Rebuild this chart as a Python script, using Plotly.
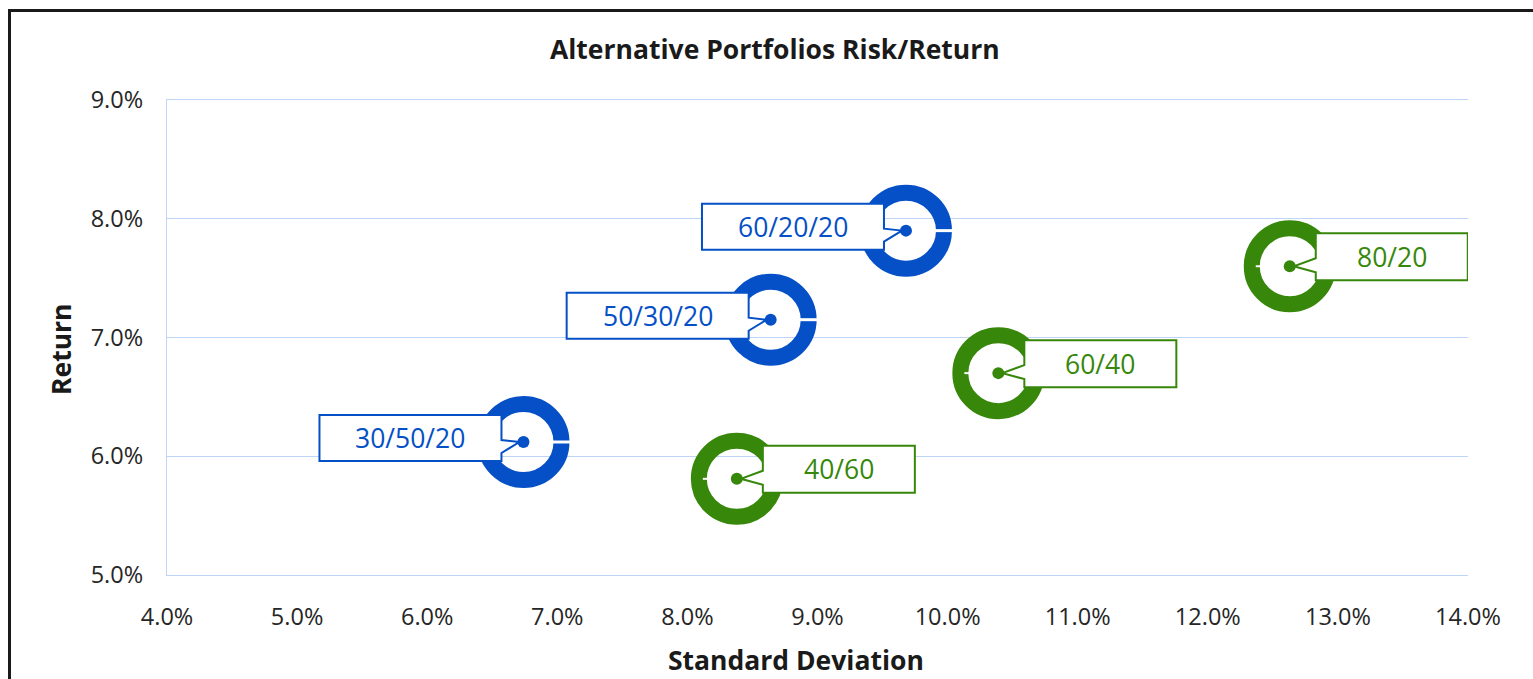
import plotly.graph_objects as go

# ---- data ----
blue_labels = ["30/50/20", "50/30/20", "60/20/20"]
blue_sd = [6.74, 8.64, 9.68]
blue_ret = [6.12, 7.15, 7.90]

green_labels = ["40/60", "60/40", "80/20"]
green_sd = [8.38, 10.39, 12.63]
green_ret = [5.81, 6.70, 7.60]

x_ticks = [4, 5, 6, 7, 8, 9, 10, 11, 12, 13, 14]
y_ticks = [5, 6, 7, 8, 9]

BLUE = "#0550c6"
GREEN = "#37870b"
GRID = "#bfd5f7"
FONT = "Open Sans"

OFF = 0  # page body margin removed via post_script
W, H = 1533, 679
ML, MT = 167, 100
MR = W - 1468
MB = H - 575
PW, PH = W - ML - MR, H - MT - MB


def px2paper_x(px):
    return (px - OFF - ML) / PW


def px2paper_y(py):
    return (H - MB - (py - OFF)) / PH


fig = go.Figure()

for xs, ys, col in [(blue_sd, blue_ret, BLUE), (green_sd, green_ret, GREEN)]:
    fig.add_trace(go.Scatter(
        x=xs, y=ys, mode="markers", hoverinfo="skip", showlegend=False,
        marker=dict(symbol="circle-open", size=76, color=col, line=dict(width=16, color=col)),
    ))
    fig.add_trace(go.Scatter(
        x=xs, y=ys, mode="markers", showlegend=False,
        marker=dict(symbol="circle", size=12, color=col),
    ))

shapes = []
annotations = []


def callout(x, y, text, col, side):
    if side == "left":
        R, width, T, h = -22, 182, 27, 46
        L = R - width
        B = T - h
        w1, w2 = 2, -11
        path = f"M {L},{T} H {R} V {w1} L -4,0 L {R},{w2} V {B} H {L} Z"
    else:
        L, width, T, h = 26, 152, 33, 47
        R = L + width
        B = T - h
        w1, w2 = 8, -6
        path = f"M {L},{T} H {R} V {B} H {L} V {w2} L 4,0 L {L},{w1} Z"
    cx = (L + R) / 2
    cy = (T + B) / 2
    shapes.append(dict(
        type="path", layer="above", xref="x", yref="y",
        xsizemode="pixel", ysizemode="pixel", xanchor=x, yanchor=y,
        path=path, fillcolor="white", line=dict(color=col, width=2),
    ))
    annotations.append(dict(
        x=x, y=y, xref="x", yref="y", text=text, showarrow=False,
        xanchor="center", yanchor="middle",
        xshift=cx, yshift=cy, font=dict(family=FONT, size=26.5, color=col),
    ))


def gap(x, y, x0, x1, w):
    shapes.append(dict(
        type="line", layer="above", xref="x", yref="y",
        xsizemode="pixel", ysizemode="pixel", xanchor=x, yanchor=y,
        x0=x0, x1=x1, y0=0, y1=0, line=dict(color="white", width=w),
    ))


for x, y, t in zip(blue_sd, blue_ret, blue_labels):
    gap(x, y, 28, 48, 3)
    callout(x, y, t, BLUE, "left")
for x, y, t in zip(green_sd, green_ret, green_labels):
    gap(x, y, -34, -28, 2)
    callout(x, y, t, GREEN, "right")

# outer frame
shapes.append(dict(
    type="rect", xref="paper", yref="paper", layer="above",
    x0=px2paper_x(9.5), x1=px2paper_x(1580), y0=px2paper_y(10.5), y1=px2paper_y(740),
    line=dict(color="#1a1a1a", width=3), fillcolor="rgba(0,0,0,0)",
))

TITLE_FONT = dict(family=FONT, size=26.5, color="#1a1a1a")
annotations += [
    dict(text="<b>Alternative Portfolios Risk/Return</b>", xref="paper", yref="paper",
         x=px2paper_x(775), y=px2paper_y(49), showarrow=False,
         xanchor="center", yanchor="middle", font=TITLE_FONT),
    dict(text="<b>Standard Deviation</b>", xref="paper", yref="paper",
         x=px2paper_x(796), y=px2paper_y(660), showarrow=False,
         xanchor="center", yanchor="middle", font=TITLE_FONT),
    dict(text="<b>Return</b>", xref="paper", yref="paper", textangle=-90,
         x=px2paper_x(61), y=px2paper_y(349), showarrow=False,
         xanchor="center", yanchor="middle", font=TITLE_FONT),
]

fig.update_layout(
    width=W, height=H,
    margin=dict(l=ML, r=MR, t=MT, b=MB),
    paper_bgcolor="white", plot_bgcolor="white",
    shapes=shapes, annotations=annotations,
    font=dict(family=FONT, size=23.5, color="#262626"),
    xaxis=dict(range=[4, 14], tickvals=x_ticks, ticktext=[f"{v:.1f}%" for v in x_ticks],
               showgrid=False, zeroline=False, showline=True, mirror=True,
               linecolor=GRID, linewidth=1.3, ticks="",
               ticklabelstandoff=21, tickfont=dict(size=23.5, color="#262626")),
    yaxis=dict(range=[5, 9], tickvals=y_ticks, ticktext=[f"{v:.1f}%" for v in y_ticks],
               showgrid=True, gridcolor=GRID, gridwidth=1.3, zeroline=False,
               showline=True, linecolor=GRID, linewidth=1.3, ticks="",
               ticklabelstandoff=18, tickfont=dict(size=23.5, color="#262626")),
)

fig.write_html(
    "out.html",
    config={"displayModeBar": False},
    post_script="document.body.style.margin='0';document.body.style.overflow='hidden';",
)
